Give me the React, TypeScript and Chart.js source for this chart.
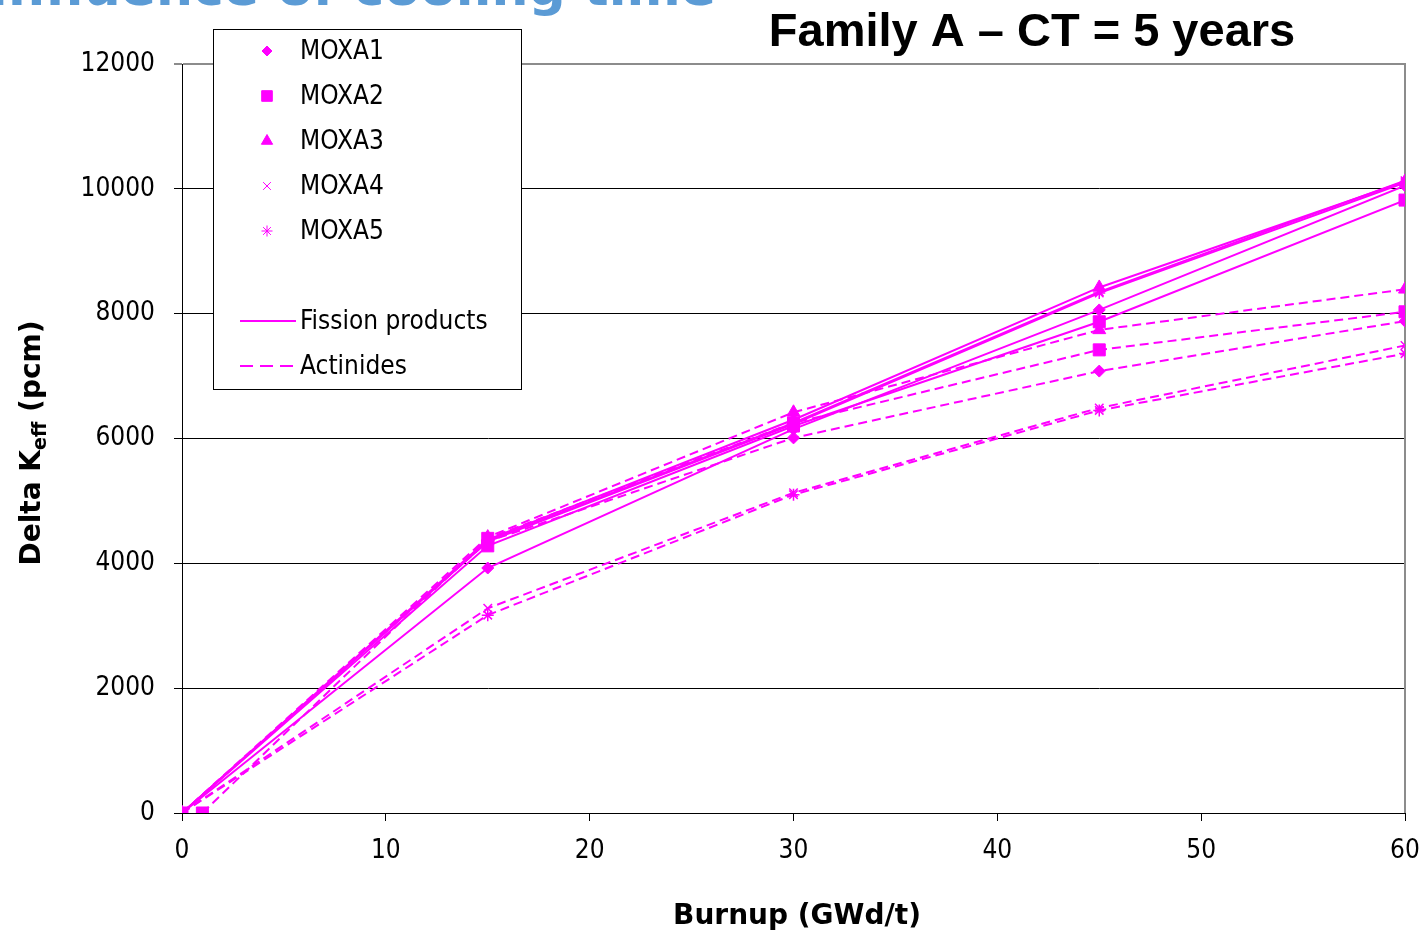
import React, { useEffect, useRef } from 'react';
import { Chart, registerables } from 'chart.js';
import { drawPoint } from 'chart.js/helpers';

Chart.register(...registerables);

// ---------- data ----------
const burnup = [0, 15, 30, 45, 60];
const burnupMOXA2Act = [1, 15, 30, 45, 60];
const seriesNames = ['MOXA1', 'MOXA2', 'MOXA3', 'MOXA4', 'MOXA5'];

// Fission products (solid lines)
const fpMOXA1 = [0, 3925, 6150, 8060, 10050];
const fpMOXA2 = [0, 4280, 6200, 7870, 9820];
const fpMOXA3 = [0, 4380, 6300, 8420, 10120];
const fpMOXA4 = [0, 4360, 6250, 8350, 10130];
const fpMOXA5 = [0, 4350, 6230, 8330, 10100];

// Actinides (dashed lines)
const actMOXA1 = [0, 4350, 6010, 7080, 7880];
const actMOXA2 = [0, 4400, 6250, 7420, 8030];
const actMOXA3 = [0, 4420, 6420, 7740, 8390];
const actMOXA4 = [0, 3280, 5130, 6490, 7490];
const actMOXA5 = [0, 3170, 5100, 6450, 7360];

const xTickValues = [0, 10, 20, 30, 40, 50, 60];
const yTickValues = [0, 2000, 4000, 6000, 8000, 10000, 12000];

const titleText = 'Family A – CT = 5 years';
const headingText = 'Influence of cooling time';
const xTitle = 'Burnup (GWd/t)';
const yTitleMain = 'Delta K';
const yTitleSub = 'eff';
const yTitleEnd = ' (pcm)';
const legendLineLabels = ['Fission products', 'Actinides'];

// ---------- styles ----------
const MAGENTA = '#ff00ff';
const FONT_C = '"DejaVu Sans Condensed", "Liberation Sans", sans-serif';
const FONT_B = '"DejaVu Sans", sans-serif';
const pointStyles = ['rectRot', 'rect', 'triangle', 'crossRot', 'star'];
const pointRadii = [6, 8.5, 7.5, 6, 6];
const legendRadii = [5, 7.5, 6.5, 5.5, 5.5];
const DASH = [9, 5];

const fpValues = [fpMOXA1, fpMOXA2, fpMOXA3, fpMOXA4, fpMOXA5];
const actValues = [actMOXA1, actMOXA2, actMOXA3, actMOXA4, actMOXA5];
const actBurnups = [burnup, burnupMOXA2Act, burnup, burnup, burnup];

function buildDatasets() {
  const ds: any[] = [];
  seriesNames.forEach((name, i) => {
    const common = {
      borderColor: MAGENTA,
      backgroundColor: MAGENTA,
      pointBackgroundColor: MAGENTA,
      pointBorderColor: MAGENTA,
      pointStyle: pointStyles[i],
      pointRadius: pointRadii[i],
      pointBorderWidth: i >= 3 ? 1.5 : 1,
      showLine: true,
      borderWidth: 2,
      fill: false,
      tension: 0,
    };
    ds.push({
      ...common,
      label: name + ' – Fission products',
      data: burnup.map((x, j) => ({ x, y: fpValues[i][j] })),
    });
    ds.push({
      ...common,
      label: name + ' – Actinides',
      borderDash: DASH,
      data: actBurnups[i].map((x, j) => ({ x, y: actValues[i][j] })),
    });
  });
  return ds;
}

const overlayPlugin = {
  id: 'overlay',
  beforeDatasetsDraw(chart: any) {
    const ctx = chart.ctx;
    const a = chart.chartArea;
    ctx.save();
    ctx.strokeStyle = '#8c8c8c';
    ctx.lineWidth = 2;
    ctx.beginPath();
    ctx.moveTo(a.right, a.top - 1);
    ctx.lineTo(a.right, a.bottom);
    ctx.stroke();
    ctx.restore();
  },
  afterDraw(chart: any) {
    const ctx = chart.ctx;
    ctx.save();

    // heading (cut at top of slide)
    ctx.fillStyle = '#5b9bd5';
    ctx.font = 'bold 52px ' + FONT_B;
    ctx.textAlign = 'right';
    ctx.textBaseline = 'alphabetic';
    ctx.fillText(headingText, 716, 5);

    // chart title
    ctx.fillStyle = '#000';
    ctx.font = 'bold 47px "Liberation Sans", Arial, sans-serif';
    ctx.textAlign = 'center';
    ctx.fillText(titleText, 1032, 46);

    // x title
    ctx.font = 'bold 28px ' + FONT_B;
    ctx.fillText(xTitle, 797, 924);

    // y title (rotated, with subscript)
    ctx.save();
    ctx.translate(40, 443);
    ctx.rotate(-Math.PI / 2);
    ctx.textAlign = 'left';
    const mainFont = 'bold 28px ' + FONT_B;
    const subFont = 'bold 19px ' + FONT_B;
    ctx.font = mainFont;
    const w1 = ctx.measureText(yTitleMain).width;
    const w3 = ctx.measureText(yTitleEnd).width;
    ctx.font = subFont;
    const w2 = ctx.measureText(yTitleSub).width;
    let x = -(w1 + w2 + w3) / 2;
    ctx.font = mainFont;
    ctx.fillText(yTitleMain, x, 0);
    x += w1;
    ctx.font = subFont;
    ctx.fillText(yTitleSub, x, 6);
    x += w2;
    ctx.font = mainFont;
    ctx.fillText(yTitleEnd, x, 0);
    ctx.restore();

    // legend box
    const lx = 213, ly = 29, lw = 308, lh = 360;
    ctx.fillStyle = '#fff';
    ctx.fillRect(lx, ly, lw, lh);
    ctx.strokeStyle = '#000';
    ctx.lineWidth = 1;
    ctx.strokeRect(lx + 0.5, ly + 0.5, lw, lh);

    const rows = [51, 96, 141, 186, 231];
    ctx.font = '26px ' + FONT_C;
    ctx.textAlign = 'left';
    ctx.textBaseline = 'middle';
    seriesNames.forEach((name, i) => {
      ctx.fillStyle = MAGENTA;
      ctx.strokeStyle = MAGENTA;
      ctx.lineWidth = 1;
      drawPoint(ctx, {
        pointStyle: pointStyles[i],
        radius: legendRadii[i],
        rotation: 0,
        borderWidth: 1,
      } as any, 267, rows[i]);
      ctx.fillStyle = '#000';
      ctx.fillText(name, 300, rows[i] + 1);
    });

    const lineRows = [321, 366];
    lineRows.forEach((yy, k) => {
      ctx.strokeStyle = MAGENTA;
      ctx.lineWidth = 2;
      ctx.setLineDash(k === 1 ? [13, 7] : []);
      ctx.beginPath();
      ctx.moveTo(240, yy);
      ctx.lineTo(296, yy);
      ctx.stroke();
      ctx.setLineDash([]);
      ctx.fillStyle = '#000';
      ctx.fillText(legendLineLabels[k], 300, yy + 1);
    });

    ctx.restore();
  },
};

export default function App() {
  const ref = useRef<HTMLCanvasElement | null>(null);

  useEffect(() => {
    document.body.style.margin = '0';
    const canvas = ref.current;
    if (!canvas) return;
    const chart = new Chart(canvas, {
      type: 'scatter',
      data: { datasets: buildDatasets() },
      options: {
        animation: false,
        responsive: false,
        maintainAspectRatio: false,
        devicePixelRatio: 1,
        layout: { padding: { top: 64, right: 20, left: 0, bottom: 0 } },
        plugins: {
          legend: { display: false },
          tooltip: { enabled: false },
          title: { display: false },
        },
        scales: {
          x: {
            type: 'linear',
            min: 0,
            max: 60,
            afterBuildTicks: (s: any) => {
              s.ticks = xTickValues.map((v) => ({ value: v }));
            },
            ticks: {
              font: { family: FONT_C, size: 26 },
              color: '#000',
              padding: 15,
              callback: (v: any) => String(v),
            },
            grid: {
              drawOnChartArea: false,
              drawTicks: true,
              tickLength: 8,
              color: '#000',
            },
            border: { color: '#000', width: 1 },
            afterFit: (s: any) => {
              s.height = 119;
              s.paddingLeft = 0;
              s.paddingRight = 0;
            },
          },
          y: {
            type: 'linear',
            min: 0,
            max: 12000,
            afterBuildTicks: (s: any) => {
              s.ticks = yTickValues.map((v) => ({ value: v }));
            },
            ticks: {
              font: { family: FONT_C, size: 26 },
              color: '#000',
              padding: 19,
              callback: (v: any) => String(v),
            },
            grid: {
              color: (c: any) => (c.tick && c.tick.value === 12000 ? '#8c8c8c' : '#000'),
              lineWidth: (c: any) => (c.tick && c.tick.value === 12000 ? 2 : 1),
              drawTicks: true,
              tickLength: 8,
            },
            border: { color: '#000', width: 1 },
            afterFit: (s: any) => {
              s.width = 182;
              s.paddingTop = 0;
              s.paddingBottom = 0;
            },
          },
        },
      } as any,
      plugins: [overlayPlugin],
    });
    return () => chart.destroy();
  }, []);

  return (
    <div style={{ position: 'fixed', left: 0, top: 0, width: 1425, height: 932, background: '#fff' }}>
      <canvas ref={ref} width={1425} height={932} style={{ width: 1425, height: 932, display: 'block' }} />
    </div>
  );
}
